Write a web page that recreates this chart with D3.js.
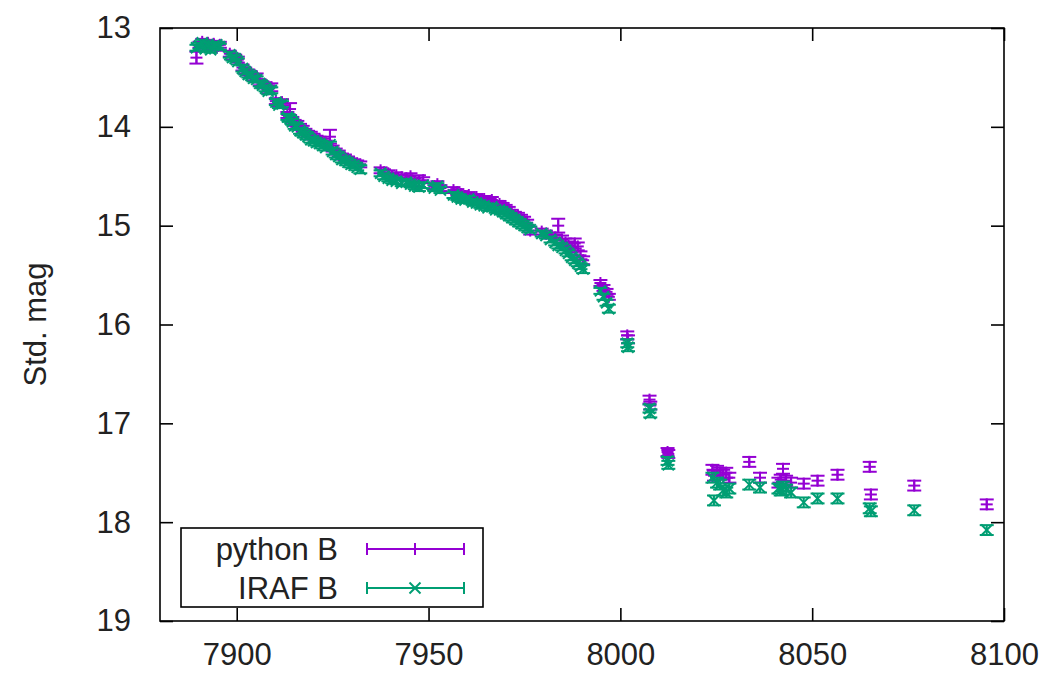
<html>
<head>
<title>Std. mag light curve</title>
<script src="https://cdnjs.cloudflare.com/ajax/libs/d3/7.8.5/d3.min.js"></script>
<style>
  * { margin: 0; padding: 0; }
  body { background: #fff; }
  text { font-family: "Liberation Sans", Arial, sans-serif; fill: #222; }
</style>
</head>
<body>
<svg id="viz"></svg>
<script>
// observation dates (shared by both reductions)
var days = [
  7889.5, 7890.3, 7891.0, 7891.8, 7892.5, 7893.2, 7894.0, 7894.8, 7895.6,
  7898.2, 7898.9, 7899.6, 7900.3,
  7901.5, 7902.2, 7903.0, 7903.7, 7904.4, 7905.2, 7906.0, 7906.7, 7907.5, 7908.2, 7909.0,
  7910.2, 7911.0, 7911.8,
  7913.2, 7913.9, 7914.5, 7915.1, 7915.8, 7916.5, 7917.2, 7917.9, 7918.6, 7919.3, 7920.0, 7920.8,
  7921.6, 7922.4, 7923.2, 7924.3, 7925.0, 7925.8, 7926.6, 7927.4, 7928.2, 7929.0, 7929.8, 7930.6, 7931.4, 7932.2,
  7937.5, 7938.4, 7939.5, 7940.5, 7941.6, 7943.0, 7944.2, 7945.3, 7946.4, 7947.5, 7948.6,
  7951.5, 7952.3, 7953.1,
  7956.5, 7957.5, 7958.5, 7959.5, 7960.5, 7961.5, 7962.5, 7963.5, 7964.5, 7965.5, 7966.5, 7967.5,
  7968.5, 7969.3, 7970.1, 7970.9, 7971.7, 7972.5, 7973.3, 7974.1, 7974.9, 7975.7, 7976.5,
  7979.5, 7980.6, 7981.8, 7983.0, 7983.8, 7984.8, 7985.7, 7986.5, 7987.3, 7988.1, 7988.9, 7989.6, 7990.3,
  7994.8, 7995.6, 7996.4, 7997.0,
  8001.8, 8002.0,
  8007.6, 8007.8,
  8012.3, 8012.5,
  8024.0, 8024.4, 8025.2, 8026.0, 8026.8, 8027.6, 8028.4,
  8033.6, 8036.4, 8041.2, 8041.8, 8042.4, 8043.2, 8044.5,
  8047.8, 8051.4, 8056.6, 8065.0, 8065.3, 8076.6, 8095.5
];

var pythonB = [
  13.30, 13.17, 13.14, 13.18, 13.15, 13.19, 13.16, 13.20, 13.17,
  13.26, 13.29, 13.30, 13.32,
  13.40, 13.43, 13.45, 13.47, 13.50, 13.49, 13.55, 13.57, 13.58, 13.62, 13.60,
  13.74, 13.76, 13.75,
  13.88, 13.82, 13.93, 13.96, 13.97, 14.00, 14.02, 14.05, 14.07, 14.08, 14.10, 14.12,
  14.13, 14.15, 14.17, 14.10, 14.22, 14.25, 14.27, 14.30, 14.31, 14.33, 14.35, 14.36, 14.37, 14.38,
  14.44, 14.46, 14.47, 14.50, 14.49, 14.51, 14.52, 14.50, 14.56, 14.55, 14.54,
  14.60, 14.58, 14.62,
  14.64, 14.66, 14.68, 14.70, 14.69, 14.72, 14.71, 14.74, 14.73, 14.76, 14.74, 14.78,
  14.78, 14.80, 14.82, 14.84, 14.87, 14.89, 14.90, 14.92, 14.94, 14.97, 15.05,
  15.06, 15.08, 15.10, 15.12, 15.00, 15.14, 15.17, 15.20, 15.22, 15.18, 15.21, 15.30, 15.35,
  15.58, 15.63, 15.67, 15.72,
  16.11, 16.15,
  16.76, 16.82,
  17.29, 17.31,
  17.47, 17.53, 17.48, 17.50, 17.52, 17.50, 17.55,
  17.39, 17.55, 17.60, 17.57, 17.46, 17.58, 17.60,
  17.61, 17.58, 17.52, 17.44, 17.72, 17.63, 17.82
];

var pythonErr = [
  0.06, 0.03, 0.03, 0.03, 0.03, 0.03, 0.03, 0.03, 0.03,
  0.03, 0.03, 0.03, 0.03,
  0.03, 0.03, 0.03, 0.03, 0.03, 0.03, 0.03, 0.03, 0.03, 0.04, 0.04,
  0.03, 0.03, 0.03,
  0.03, 0.06, 0.03, 0.03, 0.03, 0.03, 0.03, 0.03, 0.03, 0.03, 0.03, 0.03,
  0.03, 0.03, 0.03, 0.07, 0.03, 0.03, 0.03, 0.03, 0.03, 0.03, 0.03, 0.03, 0.03, 0.03,
  0.03, 0.03, 0.03, 0.03, 0.03, 0.03, 0.03, 0.03, 0.04, 0.06, 0.03,
  0.03, 0.03, 0.03,
  0.03, 0.03, 0.03, 0.03, 0.03, 0.03, 0.03, 0.03, 0.03, 0.03, 0.03, 0.03,
  0.03, 0.03, 0.03, 0.03, 0.03, 0.03, 0.03, 0.03, 0.03, 0.03, 0.04,
  0.03, 0.03, 0.03, 0.03, 0.07, 0.04, 0.04, 0.04, 0.05, 0.05, 0.04, 0.04, 0.04,
  0.03, 0.03, 0.03, 0.03,
  0.04, 0.04,
  0.04, 0.04,
  0.04, 0.04,
  0.05, 0.05, 0.05, 0.05, 0.05, 0.05, 0.05,
  0.05, 0.05, 0.05, 0.05, 0.05, 0.05, 0.05,
  0.05, 0.05, 0.05, 0.05, 0.05, 0.05, 0.05
];

var irafB = [
  13.20, 13.18, 13.15, 13.21, 13.17, 13.22, 13.18, 13.17, 13.19,
  13.27, 13.30, 13.31, 13.34,
  13.41, 13.44, 13.47, 13.48, 13.51, 13.52, 13.56, 13.58, 13.61, 13.64, 13.63,
  13.75, 13.78, 13.77,
  13.90, 13.92, 13.95, 13.99, 14.00, 14.04, 14.06, 14.08, 14.10, 14.13, 14.14, 14.16,
  14.17, 14.19, 14.21, 14.18, 14.25, 14.28, 14.30, 14.33, 14.34, 14.36, 14.38, 14.39, 14.41, 14.43,
  14.47, 14.50, 14.52, 14.54, 14.55, 14.57, 14.56, 14.58, 14.60, 14.61, 14.59,
  14.62, 14.60, 14.64,
  14.69, 14.71, 14.73, 14.74, 14.73, 14.76, 14.77, 14.79, 14.80, 14.82, 14.81, 14.84,
  14.84, 14.86, 14.88, 14.90, 14.92, 14.94, 14.96, 14.98, 15.00, 15.02, 15.04,
  15.08, 15.10, 15.14, 15.17, 15.20, 15.22, 15.25, 15.28, 15.32, 15.35, 15.38, 15.41, 15.44,
  15.66, 15.72, 15.78, 15.84,
  16.19, 16.23,
  16.85, 16.90,
  17.38, 17.42,
  17.55, 17.78, 17.60, 17.62, 17.68, 17.70, 17.66,
  17.62, 17.65, 17.66, 17.68, 17.64, 17.67, 17.70,
  17.80, 17.76, 17.76, 17.86, 17.89, 17.88, 18.08
];

var irafErr = [
  0.03, 0.03, 0.03, 0.03, 0.03, 0.03, 0.03, 0.03, 0.03,
  0.03, 0.03, 0.03, 0.03,
  0.03, 0.03, 0.03, 0.03, 0.03, 0.03, 0.03, 0.03, 0.03, 0.03, 0.03,
  0.03, 0.03, 0.03,
  0.03, 0.03, 0.03, 0.03, 0.03, 0.03, 0.03, 0.03, 0.03, 0.03, 0.03, 0.03,
  0.03, 0.03, 0.03, 0.03, 0.03, 0.03, 0.03, 0.03, 0.03, 0.03, 0.03, 0.03, 0.03, 0.04,
  0.03, 0.03, 0.03, 0.03, 0.03, 0.03, 0.03, 0.03, 0.03, 0.04, 0.03,
  0.03, 0.03, 0.03,
  0.03, 0.03, 0.03, 0.03, 0.03, 0.03, 0.03, 0.03, 0.03, 0.03, 0.03, 0.03,
  0.03, 0.03, 0.03, 0.03, 0.03, 0.03, 0.03, 0.03, 0.03, 0.03, 0.03,
  0.03, 0.03, 0.03, 0.03, 0.03, 0.03, 0.03, 0.03, 0.03, 0.03, 0.03, 0.03, 0.04,
  0.03, 0.03, 0.03, 0.04,
  0.04, 0.04,
  0.04, 0.04,
  0.04, 0.04,
  0.05, 0.05, 0.05, 0.05, 0.05, 0.05, 0.05,
  0.05, 0.05, 0.05, 0.05, 0.05, 0.05, 0.05,
  0.05, 0.05, 0.05, 0.05, 0.05, 0.05, 0.05
];

var xTicks = [7900, 7950, 8000, 8050, 8100];
var yTicks = [13, 14, 15, 16, 17, 18, 19];
var seriesNames = ["python B", "IRAF B"];
var seriesColors = ["#9400d3", "#009e73"];

var W = 1045, H = 673;
var mLeft = 160, mRight = 1004, mTop = 28, mBottom = 621;

var svg = d3.select("#viz").attr("width", W).attr("height", H);

var x = d3.scaleLinear().domain([7880, 8100]).range([mLeft, mRight]);
var y = d3.scaleLinear().domain([13, 19]).range([mTop, mBottom]);

var tickLen = 13;
var fontSize = 31;

// axes: labels outside, ticks drawn inward (gnuplot style, mirrored)
var gx = svg.append("g").attr("transform", "translate(0," + mBottom + ")")
  .call(d3.axisBottom(x).tickValues(xTicks).tickSize(-tickLen).tickPadding(22).tickFormat(d3.format("d")));
var gxt = svg.append("g").attr("transform", "translate(0," + mTop + ")")
  .call(d3.axisTop(x).tickValues(xTicks).tickSize(-tickLen).tickFormat(""));
var gy = svg.append("g").attr("transform", "translate(" + mLeft + ",0)")
  .call(d3.axisLeft(y).tickValues(yTicks).tickSize(-tickLen).tickPadding(29).tickFormat(d3.format("d")));
var gyr = svg.append("g").attr("transform", "translate(" + mRight + ",0)")
  .call(d3.axisRight(y).tickValues(yTicks).tickSize(-tickLen).tickFormat(""));

[gx, gxt, gy, gyr].forEach(function(g) {
  g.select(".domain").remove();
  g.selectAll(".tick line").attr("stroke", "#000").attr("stroke-width", 1.6);
  g.selectAll(".tick text").attr("font-size", fontSize).attr("fill", "#222")
    .style("font-family", "'Liberation Sans', Arial, sans-serif");
});

svg.append("rect")
  .attr("x", mLeft).attr("y", mTop)
  .attr("width", mRight - mLeft).attr("height", mBottom - mTop)
  .attr("fill", "none").attr("stroke", "#000").attr("stroke-width", 1.6);

svg.append("text")
  .attr("transform", "translate(46," + ((mTop + mBottom) / 2) + ") rotate(-90)")
  .attr("text-anchor", "middle")
  .attr("font-size", fontSize)
  .text("Std. mag");

var cap = 7;

function drawSeries(vals, errs, color, marker) {
  var g = svg.append("g").attr("stroke", color).attr("stroke-width", 2).attr("fill", "none");
  for (var i = 0; i < days.length; i++) {
    var px = x(days[i]), py = y(vals[i]);
    var y1 = y(vals[i] - errs[i]), y2 = y(vals[i] + errs[i]);
    g.append("line").attr("x1", px).attr("x2", px).attr("y1", y1).attr("y2", y2);
    g.append("line").attr("x1", px - cap).attr("x2", px + cap).attr("y1", y1).attr("y2", y1);
    g.append("line").attr("x1", px - cap).attr("x2", px + cap).attr("y1", y2).attr("y2", y2);
    marker(g, px, py);
  }
}

function plusMark(g, px, py) {
  g.append("line").attr("x1", px - 6).attr("x2", px + 6).attr("y1", py).attr("y2", py);
  g.append("line").attr("x1", px).attr("x2", px).attr("y1", py - 6).attr("y2", py + 6);
}

function crossMark(g, px, py) {
  g.append("line").attr("x1", px - 5.5).attr("x2", px + 5.5).attr("y1", py - 5.5).attr("y2", py + 5.5);
  g.append("line").attr("x1", px - 5.5).attr("x2", px + 5.5).attr("y1", py + 5.5).attr("y2", py - 5.5);
}

drawSeries(pythonB, pythonErr, seriesColors[0], plusMark);
drawSeries(irafB, irafErr, seriesColors[1], crossMark);

// legend
var lg = svg.append("g");
lg.append("rect")
  .attr("x", 181).attr("y", 528).attr("width", 302).attr("height", 79)
  .attr("fill", "#fff").attr("stroke", "#000").attr("stroke-width", 1.6);

var markers = [plusMark, crossMark];
seriesNames.forEach(function(name, i) {
  var ly = 549 + i * 39;
  lg.append("text")
    .attr("x", 338).attr("y", ly).attr("dy", "0.35em")
    .attr("text-anchor", "end").attr("font-size", fontSize)
    .text(name);
  var s = lg.append("g").attr("stroke", seriesColors[i]).attr("stroke-width", 2);
  s.append("line").attr("x1", 367).attr("x2", 464).attr("y1", ly).attr("y2", ly);
  s.append("line").attr("x1", 367).attr("x2", 367).attr("y1", ly - 6).attr("y2", ly + 6);
  s.append("line").attr("x1", 464).attr("x2", 464).attr("y1", ly - 6).attr("y2", ly + 6);
  markers[i](s, 415, ly);
});
</script>
</body>
</html>
